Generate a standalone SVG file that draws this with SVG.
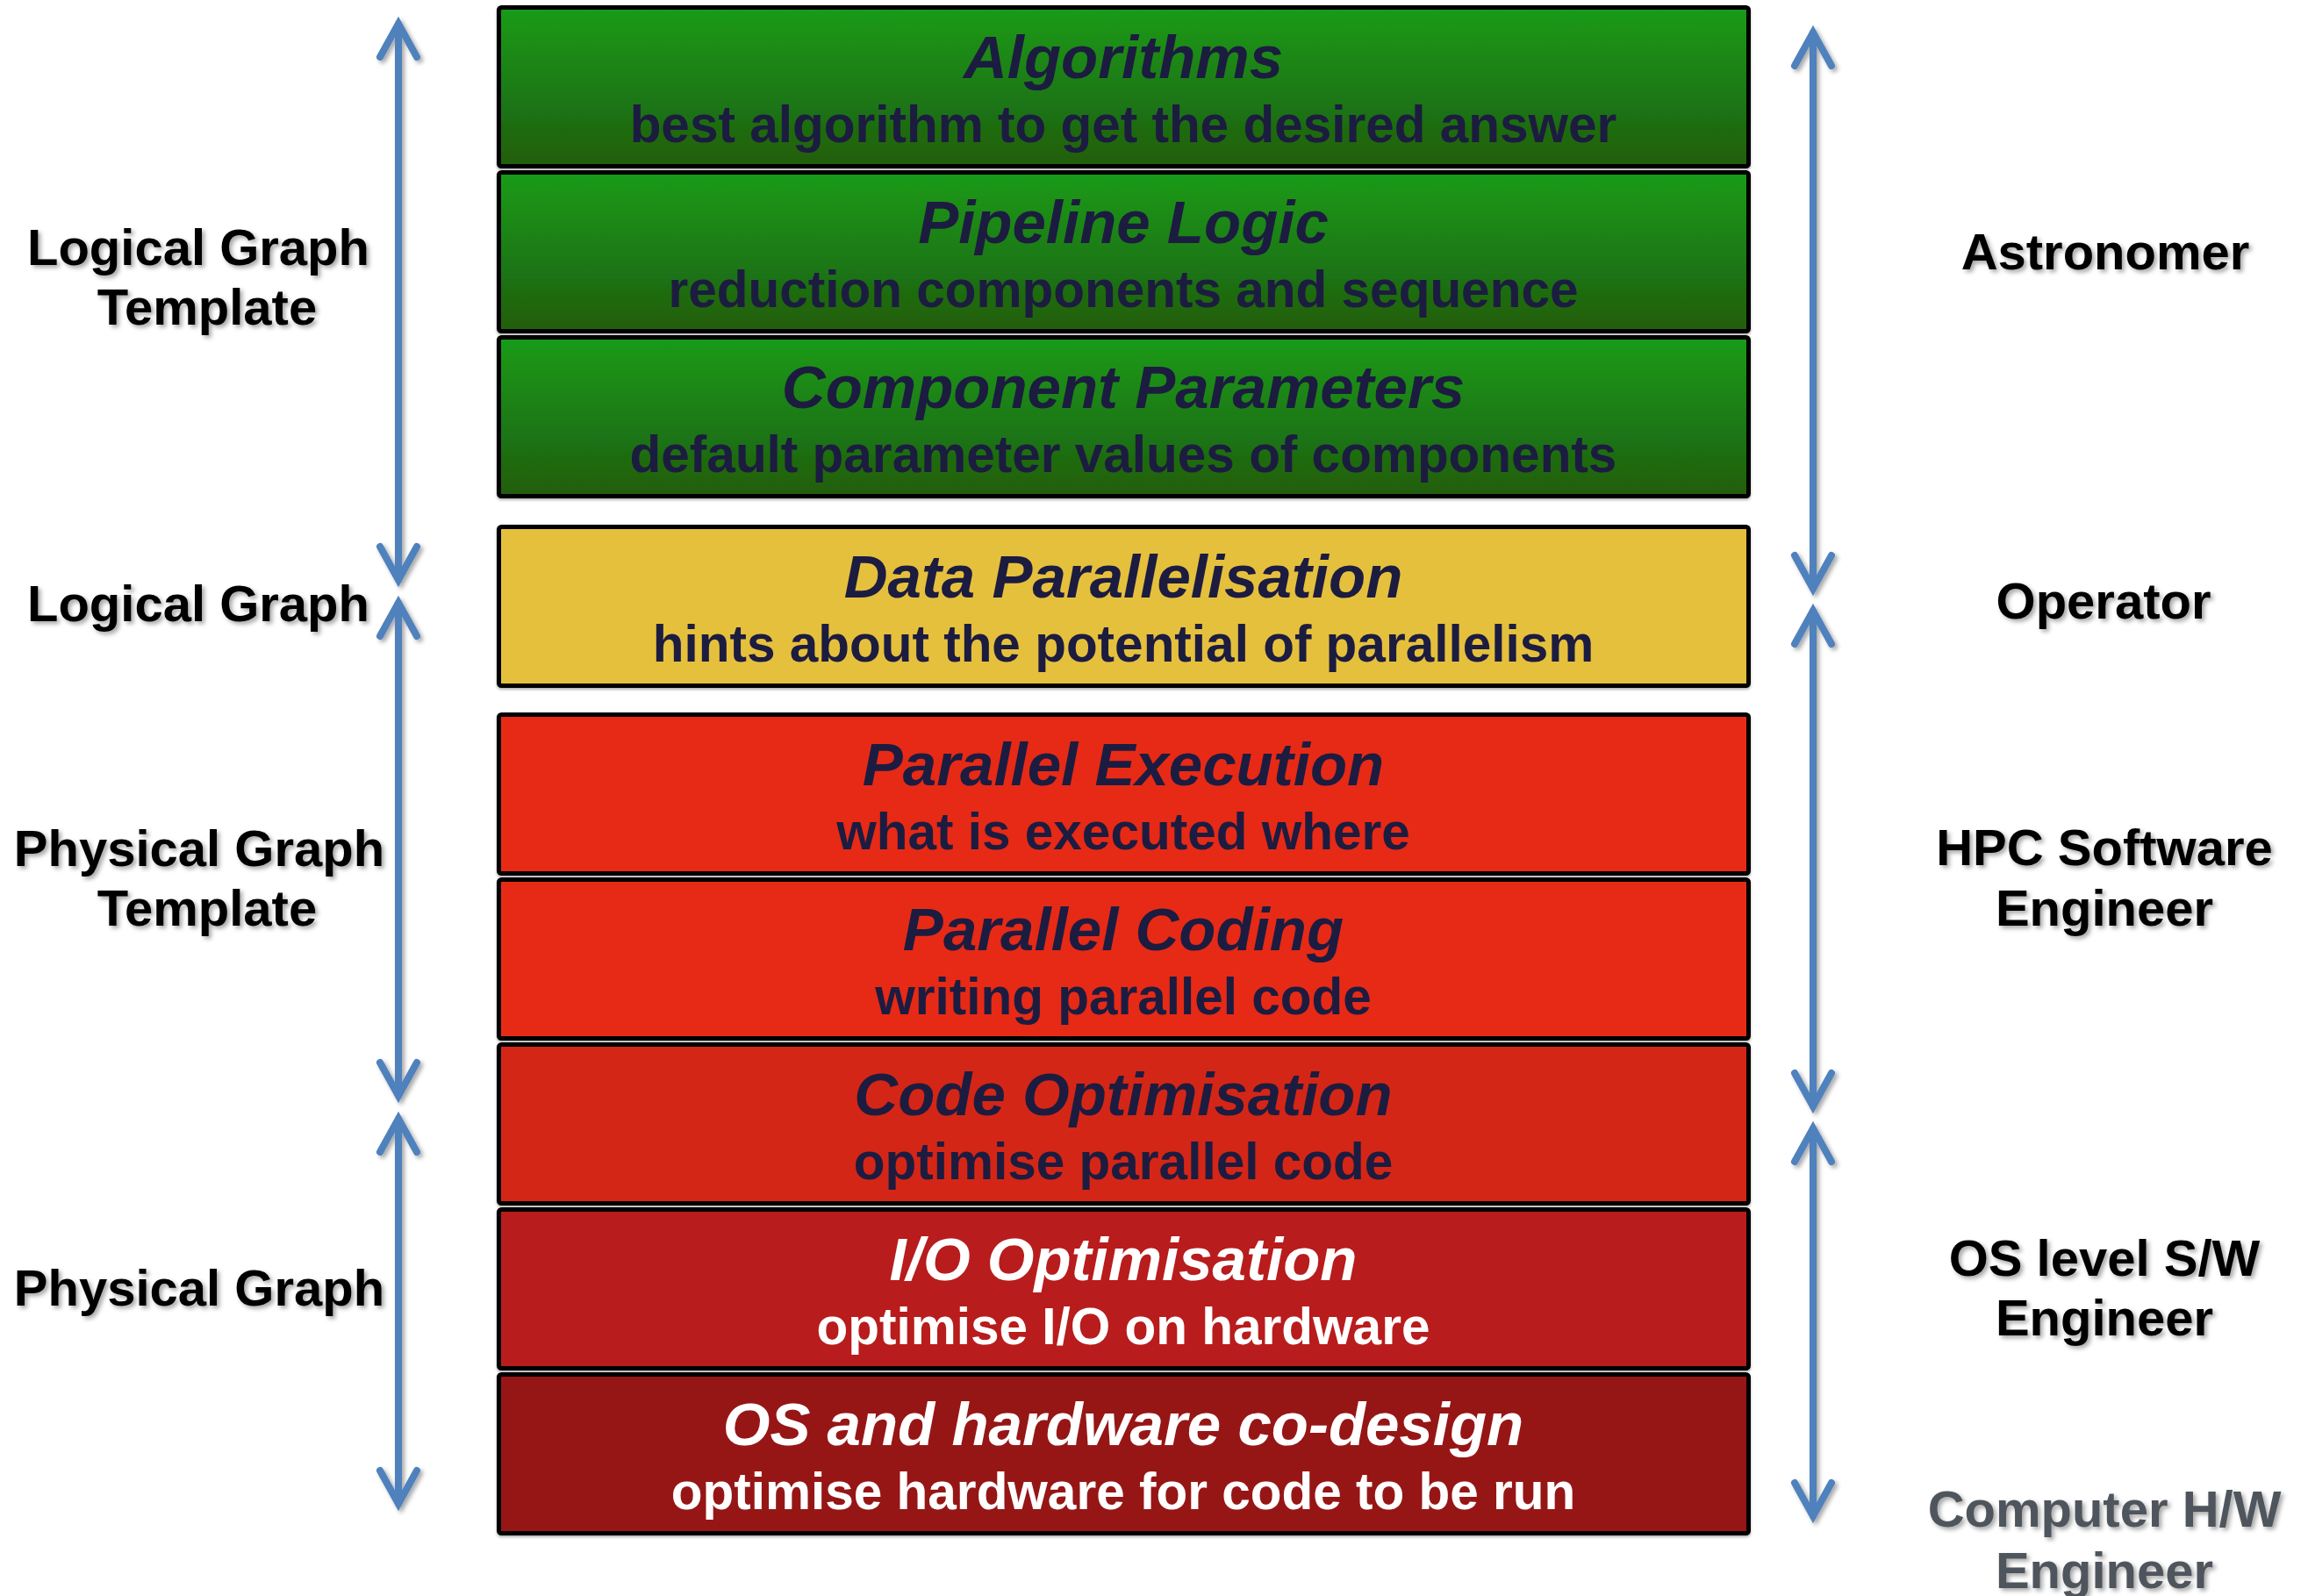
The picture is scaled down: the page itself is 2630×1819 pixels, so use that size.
<svg xmlns="http://www.w3.org/2000/svg" width="2630" height="1819" viewBox="0 0 2630 1819">
  <style>
    .box { stroke: #000; stroke-width: 5; }
    .title { font-family: "Liberation Sans", Arial, sans-serif; font-weight: bold; font-style: italic; font-size: 69px; text-anchor: middle; fill: #1f1a40; }
    .sub { font-family: "Liberation Sans", Arial, sans-serif; font-weight: bold; font-size: 58.5px; text-anchor: middle; fill: #1f1a40; }
    .light .title, .light .sub { fill: #ffffff; }
    .label { font-family: "Liberation Sans", Arial, sans-serif; font-weight: bold; font-size: 58px; text-anchor: middle; fill: #000; }
    .muted { fill: #50555c; }
    .arrow { fill: none; stroke: #4f81bd; stroke-width: 8; stroke-linecap: round; stroke-linejoin: miter; }
  </style>
  <defs>
    <linearGradient id="greenFill" x1="0" y1="0" x2="0" y2="1">
      <stop offset="0" stop-color="#199b1a"/>
      <stop offset="1" stop-color="#215d0e"/>
    </linearGradient>
    <filter id="softShadow" x="-10%" y="-10%" width="120%" height="130%">
      <feDropShadow dx="3" dy="3" stdDeviation="2.5" flood-color="#000" flood-opacity="0.35"/>
    </filter>
    <filter id="boxShadow" x="-2%" y="-5%" width="104%" height="115%">
      <feDropShadow dx="0" dy="2" stdDeviation="1.5" flood-color="#000" flood-opacity="0.3"/>
    </filter>
  </defs>

  <!-- layer stack -->
  <g id="algorithms" filter="url(#boxShadow)">
    <rect class="box" x="568.5" y="8.5" width="1424" height="181" rx="3" fill="url(#greenFill)"/>
    <text class="title" x="1280" y="89">Algorithms</text>
    <text class="sub" x="1280" y="162">best algorithm to get the desired answer</text>
  </g>
  <g id="pipeline-logic" filter="url(#boxShadow)">
    <rect class="box" x="568.5" y="196.5" width="1424" height="181" rx="3" fill="url(#greenFill)"/>
    <text class="title" x="1280" y="277">Pipeline Logic</text>
    <text class="sub" x="1280" y="350">reduction components and sequence</text>
  </g>
  <g id="component-parameters" filter="url(#boxShadow)">
    <rect class="box" x="568.5" y="384.5" width="1424" height="181" rx="3" fill="url(#greenFill)"/>
    <text class="title" x="1280" y="465">Component Parameters</text>
    <text class="sub" x="1280" y="538">default parameter values of components</text>
  </g>
  <g id="data-parallelisation" filter="url(#boxShadow)">
    <rect class="box" x="568.5" y="600.5" width="1424" height="181" rx="3" fill="#e5c03d"/>
    <text class="title" x="1280" y="681">Data Parallelisation</text>
    <text class="sub" x="1280" y="754">hints about the potential of parallelism</text>
  </g>
  <g id="parallel-execution" filter="url(#boxShadow)">
    <rect class="box" x="568.5" y="814.5" width="1424" height="181" rx="3" fill="#e62b17"/>
    <text class="title" x="1280" y="895">Parallel Execution</text>
    <text class="sub" x="1280" y="968">what is executed where</text>
  </g>
  <g id="parallel-coding" filter="url(#boxShadow)">
    <rect class="box" x="568.5" y="1002.5" width="1424" height="181" rx="3" fill="#e62b17"/>
    <text class="title" x="1280" y="1083">Parallel Coding</text>
    <text class="sub" x="1280" y="1156">writing parallel code</text>
  </g>
  <g id="code-optimisation" filter="url(#boxShadow)">
    <rect class="box" x="568.5" y="1190.5" width="1424" height="181" rx="3" fill="#d42614"/>
    <text class="title" x="1280" y="1271">Code Optimisation</text>
    <text class="sub" x="1280" y="1344">optimise parallel code</text>
  </g>
  <g id="io-optimisation" class="light" filter="url(#boxShadow)">
    <rect class="box" x="568.5" y="1378.5" width="1424" height="181" rx="3" fill="#b81f1f"/>
    <text class="title" x="1280" y="1459">I/O Optimisation</text>
    <text class="sub" x="1280" y="1532">optimise I/O on hardware</text>
  </g>
  <g id="os-hardware-codesign" class="light" filter="url(#boxShadow)">
    <rect class="box" x="568.5" y="1566.5" width="1424" height="181" rx="3" fill="#961818"/>
    <text class="title" x="1280" y="1647">OS and hardware co-design</text>
    <text class="sub" x="1280" y="1720">optimise hardware for code to be run</text>
  </g>

  <!-- graph stage labels -->
  <g id="logical-graph-template" filter="url(#softShadow)">
    <text class="label" x="226" y="302">Logical Graph</text>
    <text class="label" x="236" y="370">Template</text>
  </g>
  <g id="logical-graph" filter="url(#softShadow)">
    <text class="label" x="226" y="708">Logical Graph</text>
  </g>
  <g id="physical-graph-template" filter="url(#softShadow)">
    <text class="label" x="227" y="987">Physical Graph</text>
    <text class="label" x="236" y="1055">Template</text>
  </g>
  <g id="physical-graph" filter="url(#softShadow)">
    <text class="label" x="227" y="1488">Physical Graph</text>
  </g>

  <!-- role labels -->
  <g id="astronomer" filter="url(#softShadow)">
    <text class="label" x="2399" y="307">Astronomer</text>
  </g>
  <g id="operator" filter="url(#softShadow)">
    <text class="label" x="2397" y="705">Operator</text>
  </g>
  <g id="hpc-engineer" filter="url(#softShadow)">
    <text class="label" x="2398" y="986">HPC Software</text>
    <text class="label" x="2398" y="1055">Engineer</text>
  </g>
  <g id="os-engineer" filter="url(#softShadow)">
    <text class="label" x="2398" y="1454">OS level S/W</text>
    <text class="label" x="2398" y="1522">Engineer</text>
  </g>
  <g id="hw-engineer" filter="url(#softShadow)">
    <text class="label muted" x="2398" y="1740">Computer H/W</text>
    <text class="label muted" x="2398" y="1810">Engineer</text>
  </g>

  <!-- double-headed span arrows -->
  <g id="connectors" filter="url(#softShadow)">
    <path class="arrow" d="M454 27 V661 M433 65 L454 27 L475 65 M433 623 L454 661 L475 623"/>
    <path class="arrow" d="M454 687 V1249 M433 725 L454 687 L475 725 M433 1211 L454 1249 L475 1211"/>
    <path class="arrow" d="M454 1275 V1714 M433 1313 L454 1275 L475 1313 M433 1676 L454 1714 L475 1676"/>
    <path class="arrow" d="M2066 37 V671 M2045 75 L2066 37 L2087 75 M2045 633 L2066 671 L2087 633"/>
    <path class="arrow" d="M2066 696 V1261 M2045 734 L2066 696 L2087 734 M2045 1223 L2066 1261 L2087 1223"/>
    <path class="arrow" d="M2066 1286 V1728 M2045 1324 L2066 1286 L2087 1324 M2045 1690 L2066 1728 L2087 1690"/>
  </g>
</svg>
